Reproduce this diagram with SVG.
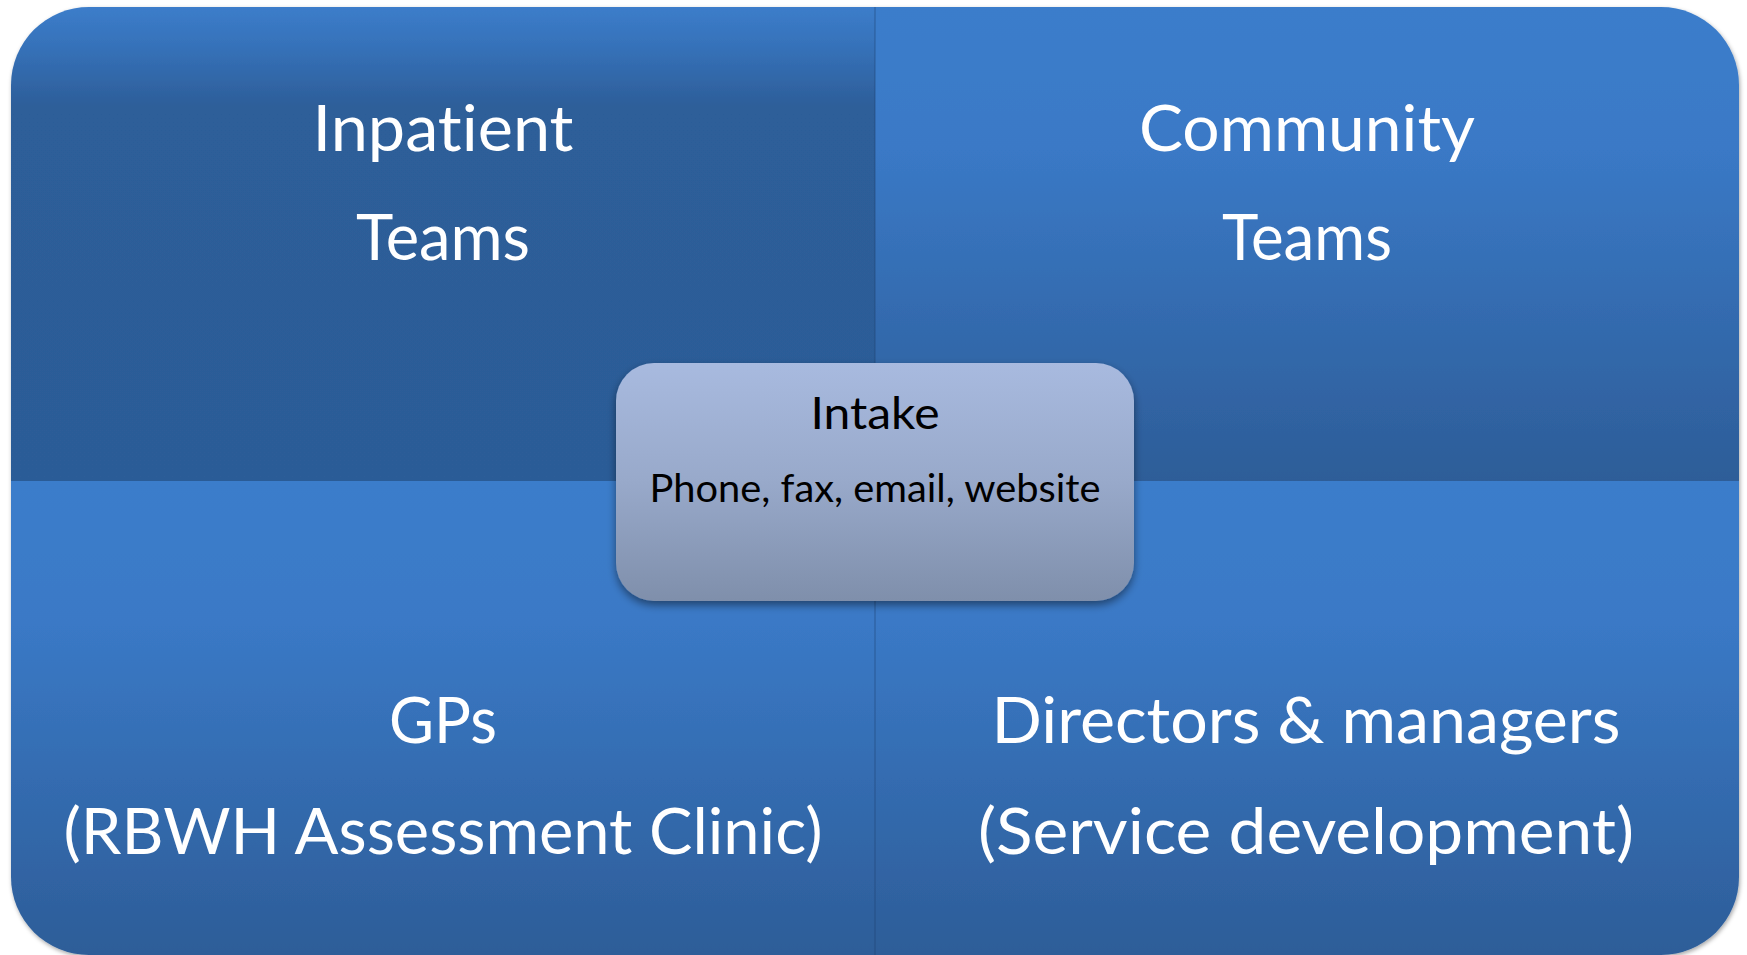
<svg xmlns="http://www.w3.org/2000/svg" width="1747" height="955" viewBox="0 0 1747 955">
<style>
text{font-variant-ligatures:none;font-feature-settings:"liga" 0,"clig" 0}
.big{font-family:Lato,"Open Sans","Liberation Sans",sans-serif;font-size:64px;fill:#ffffff;text-anchor:middle}
.t1{font-family:Lato,"Open Sans","Liberation Sans",sans-serif;font-size:45px;fill:#000000;text-anchor:middle}
.t2{font-family:Lato,"Open Sans","Liberation Sans",sans-serif;font-size:38px;fill:#000000;text-anchor:middle}
</style>
<defs>
<linearGradient id="gTL" gradientUnits="userSpaceOnUse" x1="0" y1="7" x2="0" y2="481">
<stop offset="0" stop-color="#3c7dca"/>
<stop offset="0.08" stop-color="#3672ba"/>
<stop offset="0.21" stop-color="#2d5e99"/>
<stop offset="1" stop-color="#2c5c97"/>
</linearGradient>
<linearGradient id="gTR" gradientUnits="userSpaceOnUse" x1="0" y1="7" x2="0" y2="481">
<stop offset="0" stop-color="#3b7dcb"/>
<stop offset="0.3" stop-color="#3a79c6"/>
<stop offset="1" stop-color="#2d5d98"/>
</linearGradient>
<linearGradient id="gB" gradientUnits="userSpaceOnUse" x1="0" y1="481" x2="0" y2="955">
<stop offset="0" stop-color="#3b7dcb"/>
<stop offset="0.3" stop-color="#3a79c6"/>
<stop offset="1" stop-color="#2d5d98"/>
</linearGradient>
<linearGradient id="gI" x1="0" y1="0" x2="0" y2="1">
<stop offset="0" stop-color="#a8badf"/>
<stop offset="0.5" stop-color="#98a9ca"/>
<stop offset="1" stop-color="#7f8fab"/>
</linearGradient>
<filter id="shOuter" x="-5%" y="-5%" width="110%" height="110%">
<feDropShadow dx="1" dy="2" stdDeviation="2" flood-color="#000" flood-opacity="0.35"/>
</filter>
<filter id="shBox" x="-10%" y="-10%" width="120%" height="125%">
<feDropShadow dx="0" dy="4" stdDeviation="4" flood-color="#000" flood-opacity="0.45"/>
</filter>
</defs>

<g id="matrix" filter="url(#shOuter)">
<g id="q-inpatient">
<path d="M11,481 V85 A78,78 0 0 1 89,7 H875 V481 Z" fill="url(#gTL)"/>
<text class="big" x="443" y="151" textLength="261" lengthAdjust="spacingAndGlyphs">Inpatient</text>
<text class="big" x="443" y="260" textLength="174" lengthAdjust="spacingAndGlyphs">Teams</text>
</g>
<g id="q-community">
<path d="M875,7 H1661 A78,78 0 0 1 1739,85 V481 H875 Z" fill="url(#gTR)"/>
<text class="big" x="1307" y="151" textLength="336" lengthAdjust="spacingAndGlyphs">Community</text>
<text class="big" x="1307" y="260" textLength="170" lengthAdjust="spacingAndGlyphs">Teams</text>
</g>
<g id="q-gps">
<path d="M11,481 H875 V955 H89 A78,78 0 0 1 11,877 Z" fill="url(#gB)"/>
<text class="big" x="443" y="743" textLength="108" lengthAdjust="spacingAndGlyphs">GPs</text>
<text class="big" x="443" y="854" textLength="759" lengthAdjust="spacingAndGlyphs">(RBWH Assessment Clinic)</text>
</g>
<g id="q-directors">
<path d="M875,481 H1739 V877 A78,78 0 0 1 1661,955 H875 Z" fill="url(#gB)"/>
<text class="big" x="1306" y="743" textLength="629" lengthAdjust="spacingAndGlyphs">Directors &amp; managers</text>
<text class="big" x="1306" y="854" textLength="656" lengthAdjust="spacingAndGlyphs">(Service development)</text>
</g>
</g>

<g id="connectors">
<line x1="875" y1="7" x2="875" y2="955" stroke="#1e3f6e" stroke-opacity="0.35" stroke-width="1.5"/>
</g>

<g id="intake">
<rect x="616" y="363" width="518" height="238" rx="38" ry="38" fill="url(#gI)" filter="url(#shBox)"/>
<text class="t1" x="875" y="429" textLength="129" lengthAdjust="spacingAndGlyphs">Intake</text>
<text class="t2" x="875" y="502" textLength="451" lengthAdjust="spacingAndGlyphs">Phone, fax, email, website</text>
</g>
</svg>
